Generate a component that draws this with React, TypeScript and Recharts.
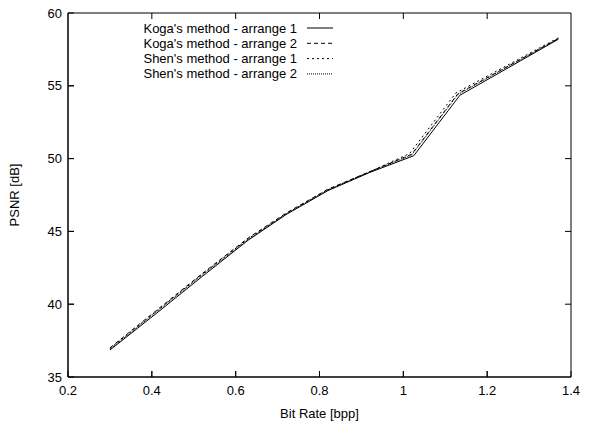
import { LineChart, Line, XAxis, YAxis, ReferenceLine } from 'recharts';

const xTicks = [0.2, 0.4, 0.6, 0.8, 1, 1.2, 1.4];
const yTicks = [35, 40, 45, 50, 55, 60];

const kogaArrange1Rate = [0.30, 0.41, 0.52, 0.63, 0.72, 0.82, 0.92, 1.025, 1.135, 1.37];
const kogaArrange1Psnr = [36.85, 39.35, 41.9, 44.4, 46.15, 47.8, 49.05, 50.2, 54.35, 58.2];

const kogaArrange2Rate = [0.30, 0.41, 0.52, 0.63, 0.72, 0.82, 0.92, 1.02, 1.13, 1.37];
const kogaArrange2Psnr = [37.0, 39.55, 42.1, 44.55, 46.25, 47.9, 49.1, 50.3, 54.45, 58.25];

const shenArrange1Rate = [0.30, 0.41, 0.52, 0.63, 0.72, 0.82, 0.92, 1.015, 1.125, 1.37];
const shenArrange1Psnr = [36.95, 39.5, 42.05, 44.5, 46.2, 47.85, 49.1, 50.35, 54.5, 58.3];

const shenArrange2Rate = [0.30, 0.41, 0.52, 0.63, 0.72, 0.82, 0.92, 1.02, 1.13, 1.37];
const shenArrange2Psnr = [36.9, 39.45, 42.0, 44.45, 46.2, 47.85, 49.1, 50.25, 54.4, 58.25];

const toPoints = (rates: number[], psnr: number[]) =>
  rates.map((rate, i) => ({ rate, psnr: psnr[i] }));

const series = [
  { name: "Koga's method - arrange 1", data: toPoints(kogaArrange1Rate, kogaArrange1Psnr), dash: undefined },
  { name: "Koga's method - arrange 2", data: toPoints(kogaArrange2Rate, kogaArrange2Psnr), dash: '4 3' },
  { name: "Shen's method - arrange 1", data: toPoints(shenArrange1Rate, shenArrange1Psnr), dash: '2 3' },
  { name: "Shen's method - arrange 2", data: toPoints(shenArrange2Rate, shenArrange2Psnr), dash: '1 1' },
];

const font = '"Liberation Sans", Arial, sans-serif';

// plot box edges in pixels (follow from the chart margins and axis sizes below)
const PLOT_TOP = 13;
const PLOT_RIGHT = 571;
const TICK = 6;

// bottom tick: label plus inward marks on the bottom and top edges
function XTick(props: any) {
  const { x, y, payload } = props;
  const axisY = y - 9;
  const inner = payload.value !== 0.2 && payload.value !== 1.4;
  return (
    <g>
      {inner && <line x1={x} x2={x} y1={axisY} y2={axisY - TICK} stroke="#000" />}
      {inner && <line x1={x} x2={x} y1={PLOT_TOP} y2={PLOT_TOP + TICK} stroke="#000" />}
      <text x={x} y={y} dy="0.71em" textAnchor="middle" fontSize={13} fontFamily={font} fill="#000">
        {payload.value}
      </text>
    </g>
  );
}

// left tick: label plus inward marks on the left and right edges
function YTick(props: any) {
  const { x, y, payload } = props;
  const axisX = x + 6;
  const inner = payload.value !== 35 && payload.value !== 60;
  return (
    <g>
      {inner && <line x1={axisX} x2={axisX + TICK} y1={y} y2={y} stroke="#000" />}
      {inner && <line x1={PLOT_RIGHT} x2={PLOT_RIGHT - TICK} y1={y} y2={y} stroke="#000" />}
      <text x={x} y={y} dy="0.355em" textAnchor="end" fontSize={13} fontFamily={font} fill="#000">
        {payload.value}
      </text>
    </g>
  );
}

function LegendBox() {
  return (
    <svg width={250} height={70} style={{ position: 'absolute', left: 100, top: 20 }}>
      {series.map((s, i) => {
        const y = 8 + i * 15.3;
        return (
          <g key={s.name}>
            <text x={197} y={y} dy="0.35em" textAnchor="end" fontSize={13} fontFamily={font} fill="#000">
              {s.name}
            </text>
            <line x1={207} x2={233} y1={y} y2={y} stroke="#000" strokeWidth={1} strokeDasharray={s.dash} />
          </g>
        );
      })}
    </svg>
  );
}

export default function App() {
  return (
    <div style={{ position: 'absolute', left: 0, top: 0, width: 595, height: 425, background: '#fff' }}>
      <LineChart width={595} height={425} margin={{ top: 13, right: 24, bottom: 18, left: 8 }}>
        <XAxis
          dataKey="rate"
          type="number"
          domain={[0.2, 1.4]}
          ticks={xTicks}
          height={30}
          stroke="#000"
          tickSize={-6}
          tickMargin={15}
          tick={<XTick />}
          label={{ value: 'Bit Rate [bpp]', position: 'insideBottom', offset: -11, fontSize: 13, fill: '#000', fontFamily: font }}
        />
        <YAxis
          type="number"
          domain={[35, 60]}
          ticks={yTicks}
          width={60}
          stroke="#000"
          tickSize={-6}
          tickMargin={12}
          tick={<YTick />}
          label={{ value: 'PSNR [dB]', angle: -90, position: 'insideLeft', offset: 6, fontSize: 13, fill: '#000', fontFamily: font, style: { textAnchor: 'middle' } }}
        />
        {/* frame */}
        <ReferenceLine y={60} stroke="#000" strokeWidth={1} />
        <ReferenceLine y={35} stroke="#000" strokeWidth={1} />
        <ReferenceLine x={0.2} stroke="#000" strokeWidth={1} />
        <ReferenceLine x={1.4} stroke="#000" strokeWidth={1} />
        {series.map((s) => (
          <Line
            key={s.name}
            name={s.name}
            data={s.data}
            dataKey="psnr"
            type="linear"
            stroke="#000"
            strokeWidth={1}
            strokeDasharray={s.dash}
            dot={false}
            activeDot={false}
            isAnimationActive={false}
          />
        ))}
      </LineChart>
      <LegendBox />
    </div>
  );
}
